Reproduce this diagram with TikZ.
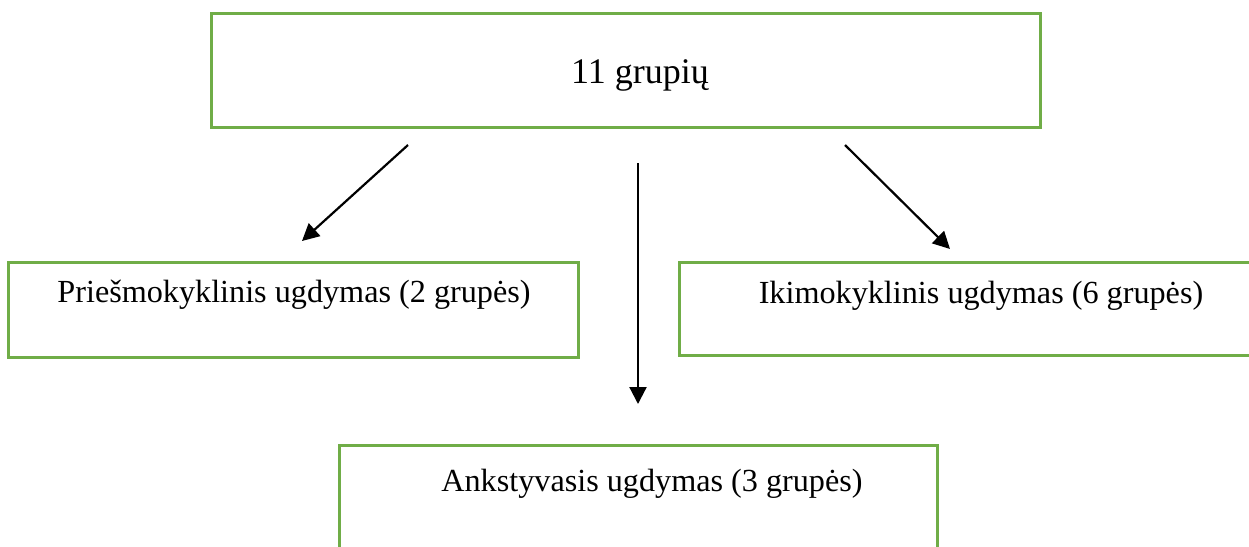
\documentclass[tikz,border=0pt]{standalone}
\usepackage{fontspec}
\setmainfont{Liberation Serif}
\usetikzlibrary{arrows.meta}
\definecolor{boxgreen}{HTML}{70AD47}
\begin{document}
\begin{tikzpicture}[x=1pt,y=-1pt,
  gbox/.style={draw=boxgreen,line width=3pt,inner sep=0pt},
  lbl/.style={anchor=base,inner sep=0pt,font=\fontsize{32.2}{38}\selectfont},
  arr/.style={line width=2.2pt,-{Triangle[length=17pt,width=17pt]}}]
\useasboundingbox (0,0) rectangle (1249,546);
\node[gbox,minimum width=829pt,minimum height=114pt] (top) at (625.5,70) {};
\node[gbox,minimum width=570pt,minimum height=95pt] (left) at (293,309.5) {};
\node[gbox,minimum width=580pt,minimum height=93pt] (right) at (969,308.5) {};
\node[gbox,minimum width=598pt,minimum height=140pt] (bottom) at (638,515) {};
\node[lbl,font=\fontsize{36}{42}\selectfont] (ttop) at (640,83) {11 grupių};
\node[lbl] (tleft) at (294,302) {Priešmokyklinis ugdymas (2 grupės)};
\node[lbl] (tright) at (981,303) {Ikimokyklinis ugdymas (6 grupės)};
\node[lbl] (tbottom) at (652,491) {Ankstyvasis ugdymas (3 grupės)};
\coordinate (a1s) at (408,145);
\coordinate (a1e) at (302,241);
\coordinate (a2s) at (638,163);
\coordinate (a2e) at (638,404);
\coordinate (a3s) at (845,145);
\coordinate (a3e) at (950,249);
\draw[arr] (a1s) -- (a1e);
\draw[arr] (a2s) -- (a2e);
\draw[arr] (a3s) -- (a3e);
\end{tikzpicture}
\end{document}
